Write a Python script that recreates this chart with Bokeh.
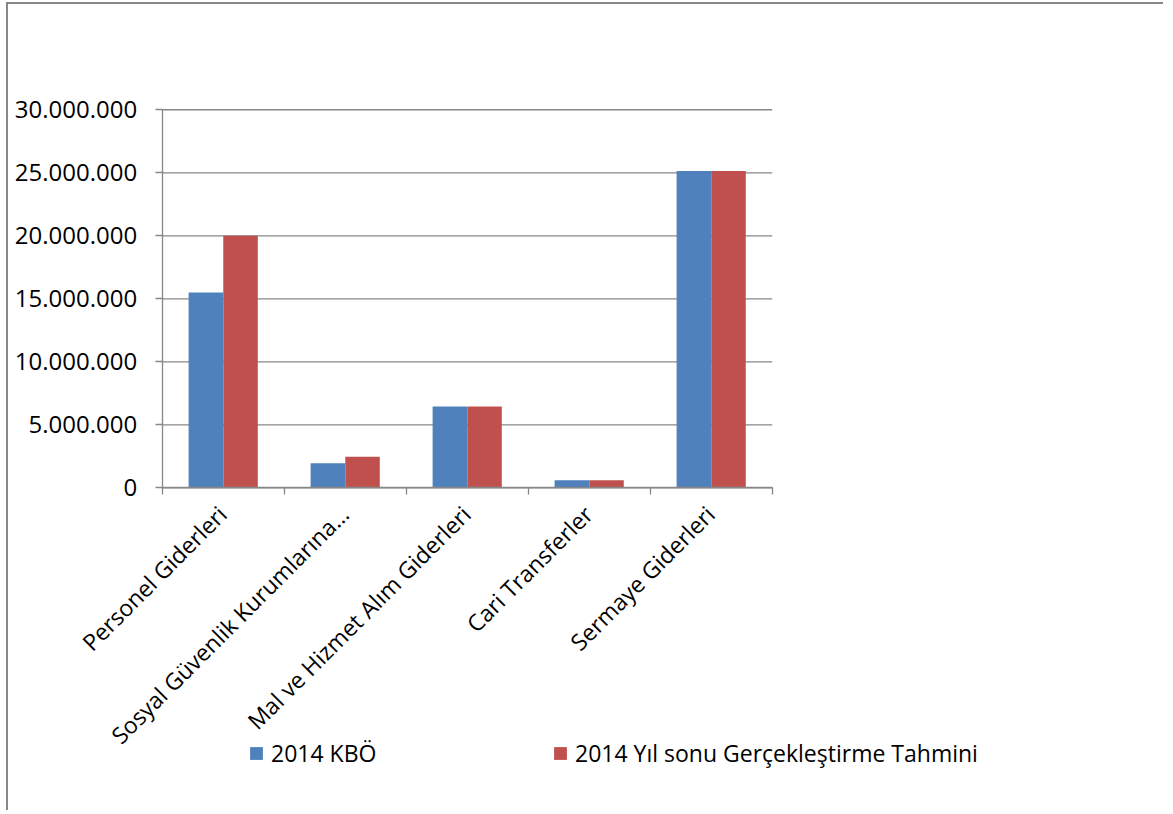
import math
from bokeh.plotting import figure
from bokeh.models import (ColumnDataSource, FixedTicker, Legend, LegendItem, Range1d)
from bokeh.core.properties import value
from bokeh.embed import file_html
from bokeh.resources import INLINE
from bokeh.transform import dodge

categories = ["Personel Giderleri", "Sosyal Güvenlik Kurumlarına…",
              "Mal ve Hizmet Alım Giderleri", "Cari Transferler", "Sermaye Giderleri"]
kbo_2014 = [15500000, 1950000, 6450000, 600000, 25150000]
tahmin_2014 = [20000000, 2480000, 6450000, 600000, 25150000]
series_names = ["2014 KBÖ", "2014 Yıl sonu Gerçekleştirme Tahmini"]
y_ticks = [0, 5000000, 10000000, 15000000, 20000000, 25000000, 30000000]
y_tick_labels = ["0", "5.000.000", "10.000.000", "15.000.000", "20.000.000", "25.000.000", "30.000.000"]

BLUE = "#4F81BD"
RED = "#C0504D"
GRAY = "#878787"
FONT = "Open Sans"

n = len(categories)
centers = [i + 0.5 for i in range(n)]
src = ColumnDataSource(dict(x=centers, kbo=kbo_2014, tahmin=tahmin_2014,
                            base=[0] * n, name=categories))
ysrc = ColumnDataSource(dict(y=y_ticks, lab=y_tick_labels, x0=[0] * len(y_ticks),
                             x1=[n] * len(y_ticks)))

# The frame covers the whole figure so that rotated labels and the legend are not clipped;
# the value axes occupy the region x in [0, n], y in [0, 30M].
p = figure(width=1157, height=808, output_backend="svg", toolbar_location=None,
           x_range=Range1d(-1.26, 8.224), y_range=Range1d(-25750000, 38350000),
           min_border_left=0, min_border_right=0, min_border_top=0, min_border_bottom=0)
p.styles = {"border-left": "2px solid #888888", "border-top": "2px solid #888888",
            "margin-left": "6px", "margin-top": "2px"}
p.outline_line_color = None
p.background_fill_color = "white"
p.border_fill_color = "white"
p.xgrid.visible = False
p.ygrid.visible = False

# horizontal gridlines at the value ticks
p.segment(x0="x0", x1="x1", y0="y", y1="y", source=ysrc, line_color=GRAY, line_width=1.3)

r1 = p.vbar(x=dodge("x", -0.142, range=p.x_range), top="kbo", width=0.283, source=src,
            fill_color=BLUE, line_color=None)
r2 = p.vbar(x=dodge("x", 0.142, range=p.x_range), top="tahmin", width=0.283, source=src,
            fill_color=RED, line_color=None)

# y axis drawn at x=0
p.yaxis.fixed_location = 0
p.yaxis.bounds = (y_ticks[0], y_ticks[-1])
p.yaxis.ticker = FixedTicker(ticks=[], minor_ticks=y_ticks)
p.yaxis.major_label_text_font_size = "0px"
p.yaxis.major_label_standoff = 0
p.yaxis.major_tick_out = 0
p.yaxis.major_tick_in = 0
p.yaxis.axis_line_color = GRAY
p.yaxis.axis_line_width = 1.3
p.yaxis.minor_tick_line_color = GRAY
p.yaxis.minor_tick_line_width = 1.3
p.yaxis.minor_tick_out = 7
p.yaxis.minor_tick_in = 0

# x axis drawn at y=0, ticks at category boundaries
p.xaxis.fixed_location = 0
p.xaxis.bounds = (0, n)
p.xaxis.ticker = FixedTicker(ticks=[], minor_ticks=list(range(n + 1)))
p.xaxis.major_label_text_font_size = "0px"
p.xaxis.major_label_standoff = 0
p.xaxis.major_tick_out = 0
p.xaxis.major_tick_in = 0
p.xaxis.minor_tick_line_color = GRAY
p.xaxis.minor_tick_line_width = 1.3
p.xaxis.minor_tick_out = 7
p.xaxis.minor_tick_in = 0
p.xaxis.axis_line_color = GRAY
p.xaxis.axis_line_width = 1.3

# value labels
p.text(x="x0", y="y", text="lab", source=ysrc, x_offset=-25,
       text_align="right", text_baseline="middle",
       text_font=value(FONT), text_font_size="24px", text_color="black")

# category labels, rotated 45 degrees, ending under each category
p.text(x="x", y="base", text="name", source=src, angle=math.pi / 4,
       x_offset=-1, y_offset=22, text_align="right", text_baseline="middle",
       text_font=value(FONT), text_font_size="23px", text_color="black")

lg = Legend(items=[LegendItem(label=series_names[0], renderers=[r1]),
                   LegendItem(label=series_names[1], renderers=[r2])],
            location=(240, 43), orientation="horizontal", padding=0, margin=0, spacing=0,
            border_line_color=None, background_fill_alpha=0,
            glyph_width=16, glyph_height=16, label_standoff=7, label_width=281, label_height=16,
            label_text_font=FONT, label_text_font_size="23px", label_text_color="black")
p.add_layout(lg, "center")

open("out.html", "w").write(file_html(p, INLINE))
